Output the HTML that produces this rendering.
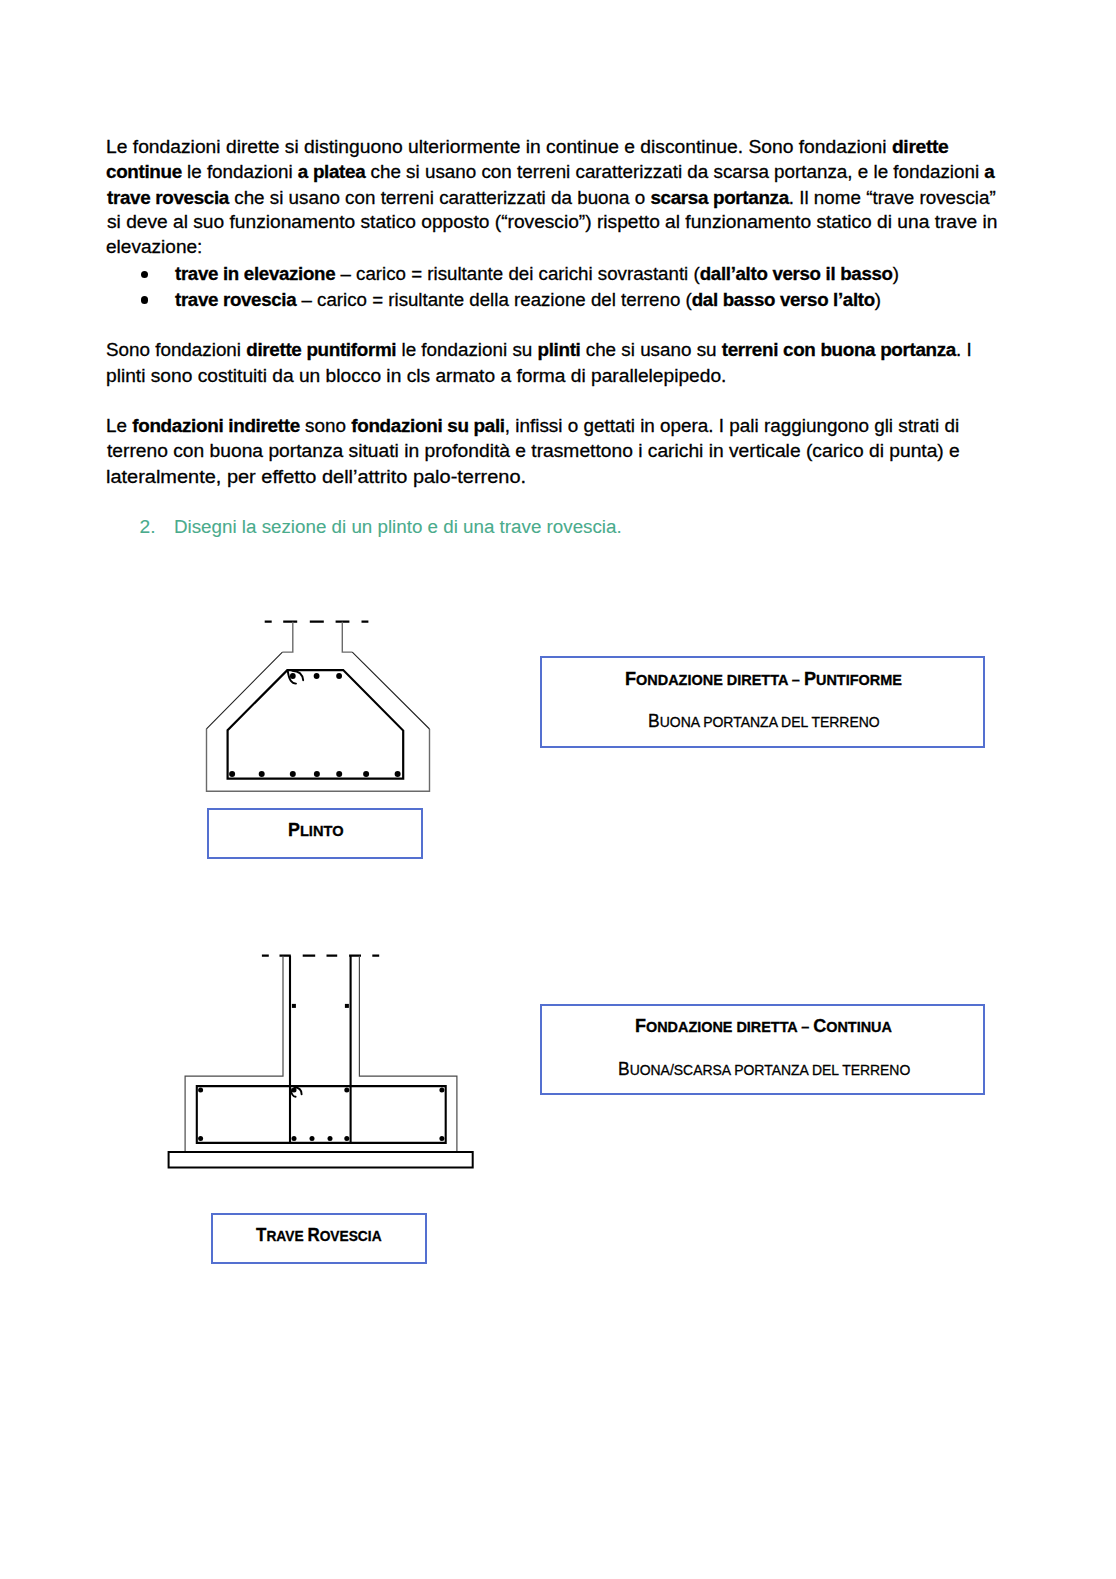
<!DOCTYPE html>
<html><head><meta charset="utf-8"><title>Fondazioni</title>
<style>

html,body{margin:0;padding:0;background:#fff;}
body{width:1116px;height:1579px;position:relative;overflow:hidden;font-family:"Liberation Sans",sans-serif;color:#000;}
.ln,.lb{position:absolute;white-space:nowrap;transform-origin:0 0;-webkit-text-stroke:0.3px currentColor;}
.ln b,.b{font-weight:bold;}
.ln b{letter-spacing:-0.33px;}
.teal{color:#4aab8c;-webkit-text-stroke:0.1px currentColor;}
.box{position:absolute;border:2px solid #5470d0;box-sizing:border-box;}
.bullet{position:absolute;width:7.4px;height:7.4px;border-radius:50%;background:#000;}
svg{position:absolute;left:0;top:0;}
</style></head><body>
<div class="bullet" style="left:140.8px;top:270.5px"></div>
<div class="bullet" style="left:140.8px;top:296.3px"></div>
<div class="box" style="left:540px;top:655.5px;width:445px;height:92px"></div>
<div class="box" style="left:540px;top:1003.5px;width:445px;height:91.5px"></div>
<div class="box" style="left:207px;top:808px;width:216px;height:50.5px"></div>
<div class="box" style="left:210.5px;top:1213px;width:216px;height:50.5px"></div>
<svg width="1116" height="1579" viewBox="0 0 1116 1579">
<g fill="none" stroke-linejoin="miter">
<!-- PLINTO -->
<g stroke="#000" stroke-width="2.2">
<path d="M264.7 621.7H271.7M283.2 621.7H297.2M309.8 621.7H323.8M335.6 621.7H349.4M361.5 621.7H368.4"/>
</g>
<path d="M292.8 621.7V652.1H282.4M206.5 728.8V791.2H429.5V729M352.3 652.1H342.3V621.7" stroke="#6a6a6a" stroke-width="1.4"/>
<path d="M282.4 652.1L206.5 728.8M429.5 729L352.3 652.1" stroke="#222" stroke-width="1.1"/>
<path d="M287.3 670.1H343.2L403.2 730.6V778.6H227.6V730.1Z" stroke="#000" stroke-width="2.2"/>
<path d="M287.8 671.2Q289.3 683.6 296 683.6M292.3 670.8Q302.2 671.2 303.2 680.2" stroke="#000" stroke-width="1.9" stroke-linecap="round"/>
<!-- TRAVE -->
<g stroke="#000" stroke-width="2.2">
<path d="M261.9 955.7H268.8M279.5 955.7H290.8M302.7 955.7H315.2M326.5 955.7H337.2M349.1 955.7H361M372.3 955.7H379.2"/>
</g>
<path d="M283 955.7V1076.2H185.1V1151.8M359.4 955.7V1076.2H456.9V1151.8" stroke="#4a4a4a" stroke-width="1.2"/>
<path d="M196.8 1086.1H445.7V1142.9H196.8Z M290 955.7V1142.9 M350.6 955.7V1142.9" stroke="#000" stroke-width="2.1"/>
<rect x="168.6" y="1152" width="304.1" height="15.5" stroke="#000" stroke-width="2"/>
<path d="M290.8 1089Q291.5 1096.5 295.6 1096.8M294.5 1087.2Q301.5 1087.6 301.6 1094.2" stroke="#000" stroke-width="1.9" stroke-linecap="round"/>
</g>
<g fill="#000">
<circle cx="292.8" cy="676" r="2.9"/><circle cx="316.6" cy="676" r="2.9"/><circle cx="339.1" cy="676" r="2.9"/>
<circle cx="232.1" cy="774" r="3"/><circle cx="261.7" cy="774" r="3"/><circle cx="292.8" cy="774" r="3"/><circle cx="316.9" cy="774" r="3"/><circle cx="339.2" cy="774" r="3"/><circle cx="366.1" cy="774" r="3"/><circle cx="397.6" cy="774" r="3"/>
<rect x="291.9" y="1003.9" width="4" height="4"/><rect x="344.9" y="1003.9" width="4" height="4"/>
<circle cx="200.6" cy="1090.1" r="2.5"/><circle cx="294" cy="1090.1" r="2.5"/><circle cx="346.8" cy="1090.1" r="2.5"/><circle cx="441.9" cy="1090.1" r="2.5"/>
<circle cx="200.6" cy="1138.6" r="2.5"/><circle cx="294" cy="1138.6" r="2.5"/><circle cx="312" cy="1138.6" r="2.5"/><circle cx="330" cy="1138.6" r="2.5"/><circle cx="346.8" cy="1138.6" r="2.5"/><circle cx="441.9" cy="1138.6" r="2.5"/>
</g>
</svg>

<div class="ln" style="left:106.20px;top:137.35px;font-size:19.2px;line-height:19.2px;transform:scaleX(1.0038)">Le fondazioni dirette si distinguono ulteriormente in continue e discontinue. Sono fondazioni <b>dirette</b></div>
<div class="ln" style="left:106.22px;top:162.35px;font-size:19.2px;line-height:19.2px;transform:scaleX(0.9803)"><b>continue</b> le fondazioni <b>a platea</b> che si usano con terreni caratterizzati da scarsa portanza, e le fondazioni <b>a</b></div>
<div class="ln" style="left:107.20px;top:187.55px;font-size:19.2px;line-height:19.2px;transform:scaleX(0.9803)"><b>trave rovescia</b> che si usano con terreni caratterizzati da buona o <b>scarsa portanza</b>. Il nome “trave rovescia”</div>
<div class="ln" style="left:107.20px;top:212.25px;font-size:19.2px;line-height:19.2px;transform:scaleX(0.9987)">si deve al suo funzionamento statico opposto (“rovescio”) rispetto al funzionamento statico di una trave in</div>
<div class="ln" style="left:105.71px;top:237.05px;font-size:19.2px;line-height:19.2px;transform:scaleX(0.9926)">elevazione:</div>
<div class="ln" style="left:175.30px;top:263.95px;font-size:19.2px;line-height:19.2px;transform:scaleX(0.9750)"><b>trave in elevazione</b> – carico = risultante dei carichi sovrastanti (<b>dall’alto verso il basso</b>)</div>
<div class="ln" style="left:175.30px;top:290.25px;font-size:19.2px;line-height:19.2px;transform:scaleX(0.9744)"><b>trave rovescia</b> – carico = risultante della reazione del terreno (<b>dal basso verso l’alto</b>)</div>
<div class="ln" style="left:106.22px;top:340.15px;font-size:19.2px;line-height:19.2px;transform:scaleX(0.9810)">Sono fondazioni <b>dirette puntiformi</b> le fondazioni su <b>plinti</b> che si usano su <b>terreni con buona portanza</b>. I</div>
<div class="ln" style="left:106.20px;top:366.05px;font-size:19.2px;line-height:19.2px;transform:scaleX(0.9995)">plinti sono costituiti da un blocco in cls armato a forma di parallelepipedo.</div>
<div class="ln" style="left:106.22px;top:416.05px;font-size:19.2px;line-height:19.2px;transform:scaleX(0.9837)">Le <b>fondazioni indirette</b> sono <b>fondazioni su pali</b>, infissi o gettati in opera. I pali raggiungono gli strati di</div>
<div class="ln" style="left:107.20px;top:441.35px;font-size:19.2px;line-height:19.2px;transform:scaleX(1.0020)">terreno con buona portanza situati in profondità e trasmettono i carichi in verticale (carico di punta) e</div>
<div class="ln" style="left:106.16px;top:466.65px;font-size:19.2px;line-height:19.2px;transform:scaleX(1.0401)">lateralmente, per effetto dell’attrito palo-terreno.</div>
<div class="ln teal" style="left:173.74px;top:517.05px;font-size:19.2px;line-height:19.2px;transform:scaleX(0.9784)">Disegni la sezione di un plinto e di una trave rovescia.</div>
<div class="ln teal" style="left:139.50px;top:517.05px;font-size:19.2px;line-height:19.2px;transform:scaleX(1.0000)">2.</div>
<div class="lb b" style="left:287.65px;top:821.09px;font-size:18.8px;line-height:18.8px;transform:scaleX(0.9500)">P<span style="font-size:15.42px">LINTO</span></div>
<div class="lb b" style="left:256.40px;top:1226.19px;font-size:18.8px;line-height:18.8px;transform:scaleX(0.9036)">T<span style="font-size:15.23px">RAVE </span>R<span style="font-size:15.23px">OVESCIA</span></div>
<div class="lb b" style="left:625.10px;top:669.56px;font-size:18px;line-height:18px;transform:scaleX(1.0044)">F<span style="font-size:14.40px">ONDAZIONE DIRETTA – </span>P<span style="font-size:14.40px">UNTIFORME</span></div>
<div class="lb" style="left:647.93px;top:711.56px;font-size:18px;line-height:18px;transform:scaleX(0.9712)">B<span style="font-size:14.40px">UONA PORTANZA DEL TERRENO</span></div>
<div class="lb b" style="left:635.00px;top:1017.46px;font-size:18px;line-height:18px;transform:scaleX(1.0008)">F<span style="font-size:14.40px">ONDAZIONE DIRETTA – </span>C<span style="font-size:14.40px">ONTINUA</span></div>
<div class="lb" style="left:617.83px;top:1059.96px;font-size:18px;line-height:18px;transform:scaleX(0.9686)">B<span style="font-size:14.40px">UONA/SCARSA PORTANZA DEL TERRENO</span></div>
</body></html>
